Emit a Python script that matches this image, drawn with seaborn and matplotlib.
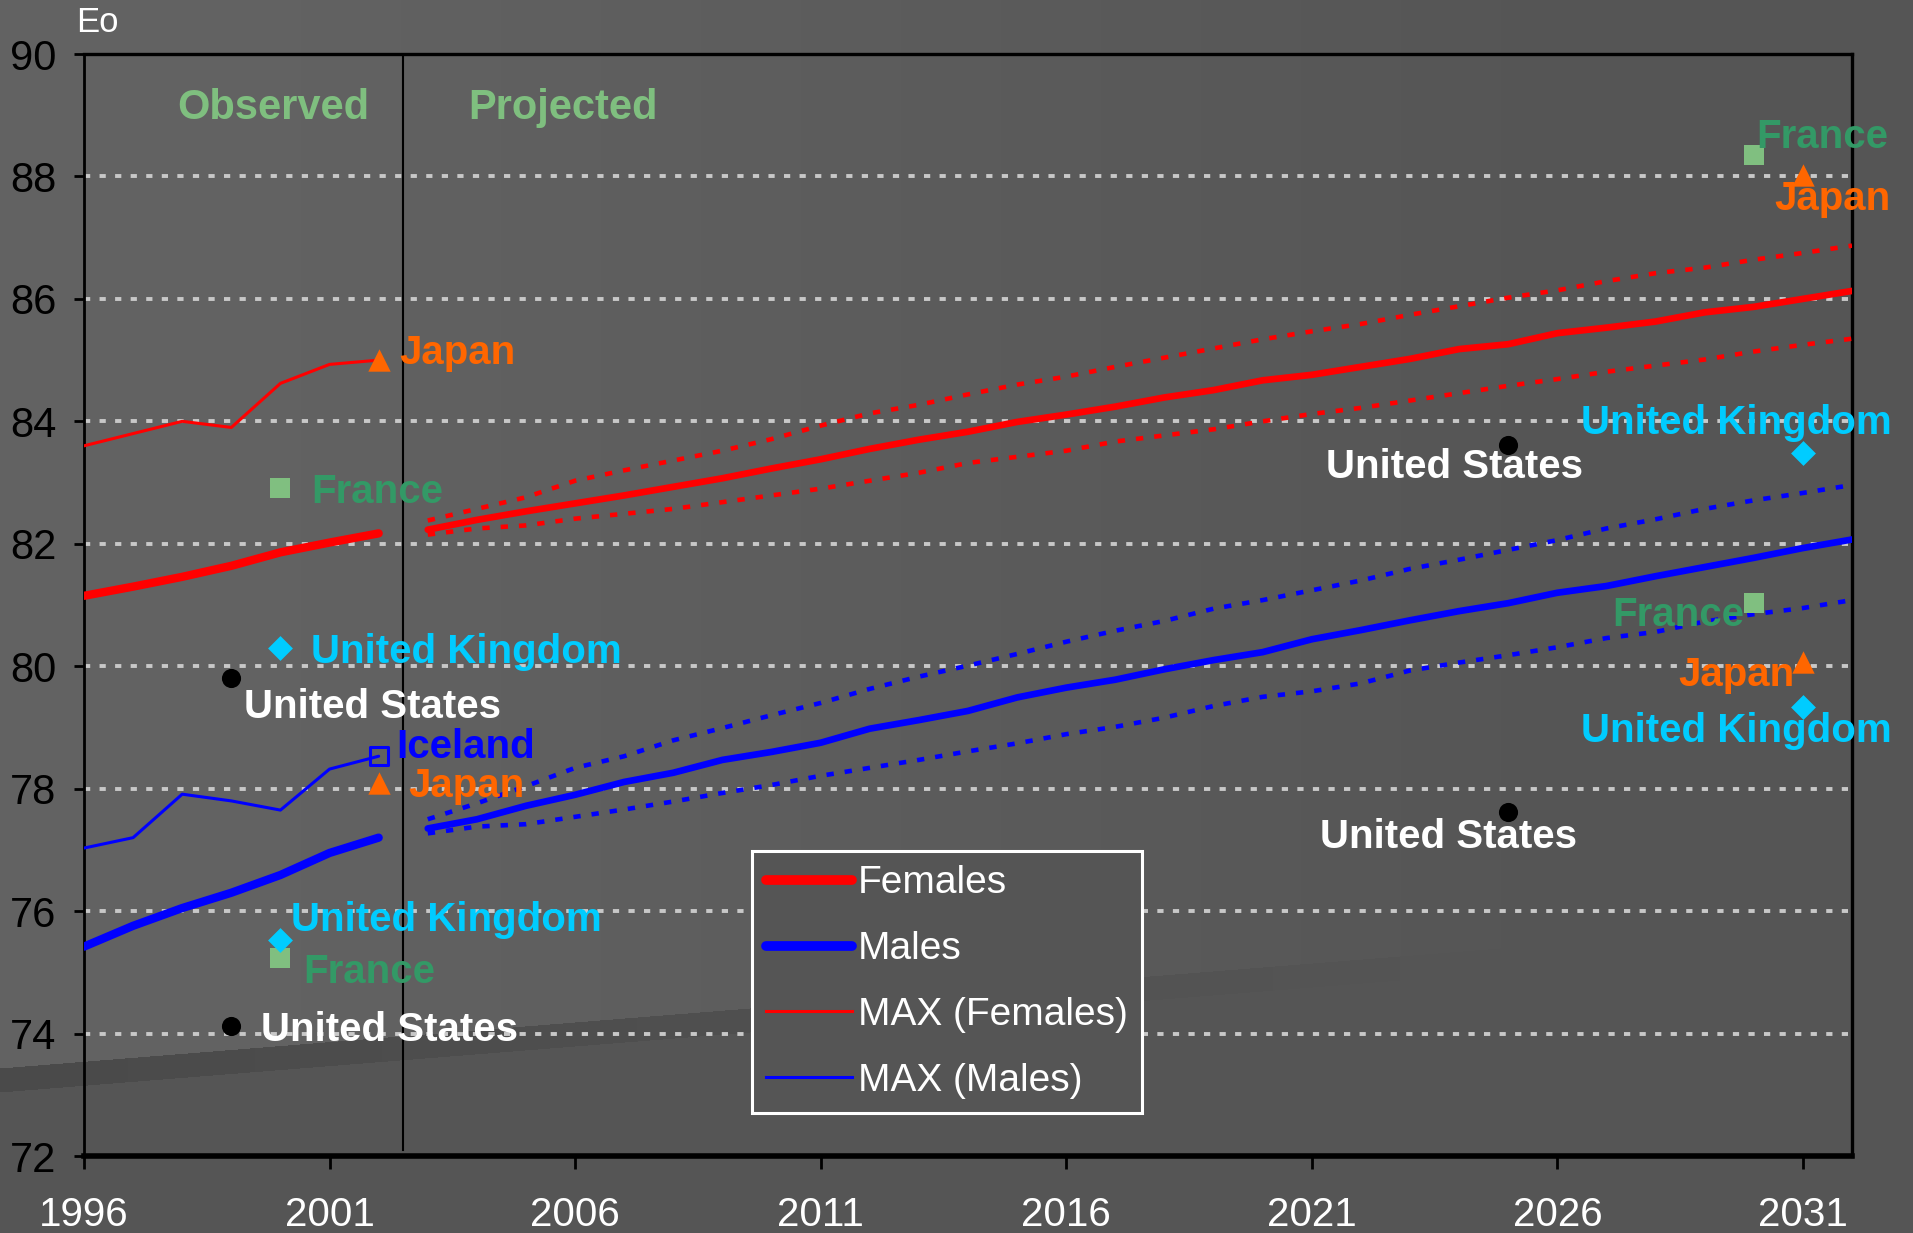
import numpy as np
import pandas as pd
import matplotlib
matplotlib.use("Agg")
import matplotlib.pyplot as plt
from matplotlib.lines import Line2D
import seaborn as sns

# ---------------- data ----------------
years_obs = [1996, 1997, 1998, 1999, 2000, 2001, 2002]
females_obs = [81.15, 81.30, 81.46, 81.64, 81.86, 82.02, 82.17]
males_obs = [75.42, 75.76, 76.05, 76.30, 76.59, 76.95, 77.20]
max_females_obs = [83.60, 83.80, 84.00, 83.90, 84.62, 84.93, 85.00]
max_males_obs = [77.03, 77.20, 77.91, 77.80, 77.65, 78.32, 78.53]

years_proj = list(range(2003, 2033))
females_proj = [82.23, 82.39, 82.53, 82.66, 82.79, 82.93, 83.07, 83.23, 83.38, 83.55,
                83.70, 83.83, 83.99, 84.11, 84.24, 84.39, 84.51, 84.67, 84.76, 84.89,
                85.02, 85.18, 85.26, 85.44, 85.53, 85.63, 85.78, 85.87, 86.00, 86.13]
females_high = [82.38, 82.57, 82.76, 83.03, 83.20, 83.36, 83.52, 83.71, 83.93, 84.13,
                84.27, 84.44, 84.60, 84.73, 84.89, 85.04, 85.19, 85.34, 85.47, 85.59,
                85.74, 85.88, 86.02, 86.14, 86.29, 86.42, 86.51, 86.64, 86.75, 86.87]
females_low = [82.15, 82.25, 82.30, 82.41, 82.49, 82.57, 82.68, 82.79, 82.90, 83.03,
               83.16, 83.32, 83.42, 83.52, 83.67, 83.77, 83.87, 84.00, 84.12, 84.22,
               84.34, 84.46, 84.58, 84.69, 84.81, 84.91, 85.01, 85.14, 85.25, 85.35]
males_proj = [77.35, 77.50, 77.72, 77.90, 78.11, 78.26, 78.47, 78.60, 78.75, 78.98,
              79.12, 79.27, 79.49, 79.65, 79.78, 79.95, 80.10, 80.23, 80.44, 80.59,
              80.75, 80.90, 81.03, 81.20, 81.31, 81.47, 81.62, 81.77, 81.93, 82.07]
males_high = [77.50, 77.76, 78.04, 78.34, 78.53, 78.79, 78.99, 79.20, 79.40, 79.63,
              79.83, 80.01, 80.20, 80.40, 80.58, 80.74, 80.94, 81.08, 81.24, 81.40,
              81.59, 81.74, 81.90, 82.06, 82.25, 82.40, 82.57, 82.71, 82.83, 82.96]
males_low = [77.27, 77.38, 77.42, 77.54, 77.66, 77.79, 77.93, 78.06, 78.21, 78.34,
             78.47, 78.61, 78.74, 78.89, 79.01, 79.16, 79.35, 79.50, 79.59, 79.72,
             79.93, 80.06, 80.18, 80.31, 80.46, 80.56, 80.73, 80.85, 80.95, 81.08]

# country reference points: (year, value)
france_pts = [(2000, 82.91), (2000, 75.24), (2030, 88.35), (2030, 81.03)]
japan_pts = [(2002, 85.00), (2002, 78.10), (2031, 88.03), (2031, 80.07)]
uk_pts = [(2000, 80.29), (2000, 75.53), (2031, 83.49), (2031, 79.34)]
us_pts = [(1999, 79.81), (1999, 74.12), (2025, 83.62), (2025, 77.62)]
iceland_pts = [(2002, 78.53)]

# country labels: (text, x, y, ha, colour)
labels = [
    ("Japan", 2002.42, 85.12, "left", "#FF6600"),
    ("France", 2000.62, 82.85, "left", "#339966"),
    ("United Kingdom", 2000.62, 80.24, "left", "#00CCFF"),
    ("United States", 1999.26, 79.33, "left", "white"),
    ("Iceland", 2002.36, 78.68, "left", "#0000FF"),
    ("Japan", 2002.60, 78.05, "left", "#FF6600"),
    ("United Kingdom", 2000.22, 75.85, "left", "#00CCFF"),
    ("France", 2000.47, 75.01, "left", "#339966"),
    ("United States", 1999.60, 74.06, "left", "white"),
    ("France", 2030.06, 88.65, "left", "#339966"),
    ("Japan", 2030.42, 87.63, "left", "#FF6600"),
    ("United Kingdom", 2032.80, 83.97, "right", "#00CCFF"),
    ("United States", 2021.29, 83.25, "left", "white"),
    ("France", 2029.80, 80.83, "right", "#339966"),
    ("Japan", 2030.83, 79.85, "right", "#FF6600"),
    ("United Kingdom", 2032.80, 78.94, "right", "#00CCFF"),
    ("United States", 2021.17, 77.21, "left", "white"),
]

x_ticks = [1996, 2001, 2006, 2011, 2016, 2021, 2026, 2031]
y_ticks = [72, 74, 76, 78, 80, 82, 84, 86, 88, 90]
legend_labels = ["Females", "Males", "MAX (Females)", "MAX (Males)"]

# ---------------- style ----------------
plt.rcParams["font.family"] = ["Liberation Sans", "DejaVu Sans"]
W, H, DPI = 1913, 1233, 100
fig = plt.figure(figsize=(W / DPI, H / DPI), dpi=DPI)

# grey backdrop: lighter on the left, with a darker diagonal streak near the bottom
xx = np.arange(W)[None, :].astype(float)
yy = np.arange(H)[:, None].astype(float)
upper_tone = 98 - 13 * np.clip((xx - 300) / 1300, 0, 1)
streak_top = 1068 - 0.08 * xx
streak_tone = 74 + 11 * np.clip(xx / 1400, 0, 1)
bg = np.where(yy < streak_top, upper_tone, 85.0)
bg = np.where((yy >= streak_top) & (yy < streak_top + 24), streak_tone, bg)
bg = np.repeat((bg / 255.0)[:, :, None], 3, axis=2)
fig.figimage(bg, xo=0, yo=0, origin="upper", zorder=-5)

ax = fig.add_axes([84 / W, 1 - 1156 / H, (1852 - 84) / W, (1156 - 54) / H])
ax.set_facecolor("none")

RED, BLUE = "#FF0000", "#0000FF"
dots = (0, (1.6, 2.4))

def line(x, y, color, lw, ls="-", z=3):
    sns.lineplot(x=x, y=y, ax=ax, color=color, linewidth=lw, linestyle=ls,
                 estimator=None, sort=False, solid_capstyle="round", zorder=z)

# observed
line(years_obs, max_females_obs, RED, 2.2)
line(years_obs, max_males_obs, BLUE, 2.2)
line(years_obs, females_obs, RED, 6.0)
line(years_obs, males_obs, BLUE, 6.0)
# projected
line(years_proj, females_high, RED, 3.3, dots)
line(years_proj, females_low, RED, 3.3, dots)
line(years_proj, males_high, BLUE, 3.3, dots)
line(years_proj, males_low, BLUE, 3.3, dots)
line(years_proj, females_proj, RED, 4.8)
line(years_proj, males_proj, BLUE, 4.8)

def points(pts, marker, color, size):
    sns.scatterplot(x=[p[0] for p in pts], y=[p[1] for p in pts], ax=ax,
                    marker=marker, color=color, s=size, linewidth=0, zorder=6)

points(france_pts, "s", "#80BF80", 190)
points(japan_pts, "^", "#FF6600", 260)
points(uk_pts, "D", "#00CCFF", 160)
points(us_pts, "o", "black", 190)
sns.scatterplot(x=[p[0] for p in iceland_pts], y=[p[1] for p in iceland_pts], ax=ax,
                marker="s", s=170, facecolor="none", edgecolor=BLUE,
                linewidth=2.2, zorder=6)

for text, x, y, ha, col in labels:
    ax.text(x, y, text, ha=ha, va="center", color=col, fontsize=29,
            fontweight="bold", zorder=7, clip_on=False)

ax.text(1999.86, 89.11, "Observed", ha="center", va="center", color="#7FBF7F",
        fontsize=30, fontweight="bold")
ax.text(2005.75, 89.11, "Projected", ha="center", va="center", color="#7FBF7F",
        fontsize=30, fontweight="bold")

# boundary between observed and projected
ax.plot([2002.5, 2002.5], [72.1, 90], color="black", linewidth=1.5, zorder=2)

ax.set_xlim(1996, 2032)
ax.set_ylim(72, 90)
ax.set_xticks(x_ticks)
ax.set_yticks(y_ticks)
ax.set_xlabel("")
ax.set_ylabel("")
ax.yaxis.grid(True, color="#C8C8C8", linestyle=dots, linewidth=2.8, zorder=1)
ax.set_axisbelow(True)
ax.tick_params(axis="x", colors="white", labelsize=29, length=9, width=2,
               pad=20, direction="out")
ax.tick_params(axis="x", color="black")
ax.tick_params(axis="y", labelcolor="black", labelsize=30, length=7, width=2,
               pad=13, direction="out", color="black")
for side, lw in (("left", 2.0), ("bottom", 4.0), ("top", 2.4), ("right", 2.4)):
    ax.spines[side].set_color("black")
    ax.spines[side].set_linewidth(lw)

fig.text(76 / W, 1 - 23 / H, "Eo", color="white", fontsize=25, ha="left", va="center")

handles = [
    Line2D([], [], color=RED, linewidth=7, solid_capstyle="round"),
    Line2D([], [], color=BLUE, linewidth=7, solid_capstyle="round"),
    Line2D([], [], color=RED, linewidth=2.2),
    Line2D([], [], color=BLUE, linewidth=2.2),
]
leg = ax.legend(handles, legend_labels, loc="lower left", bbox_to_anchor=(0.378, 0.039),
                borderaxespad=0, fontsize=28, labelcolor="white", frameon=True,
                fancybox=False, facecolor="#555555", edgecolor="white", framealpha=1,
                handlelength=2.2, handletextpad=0.15, borderpad=0.36, labelspacing=0.77)
leg.get_frame().set_linewidth(2.2)
leg.set_zorder(8)

fig.savefig("out.png", dpi=DPI)
